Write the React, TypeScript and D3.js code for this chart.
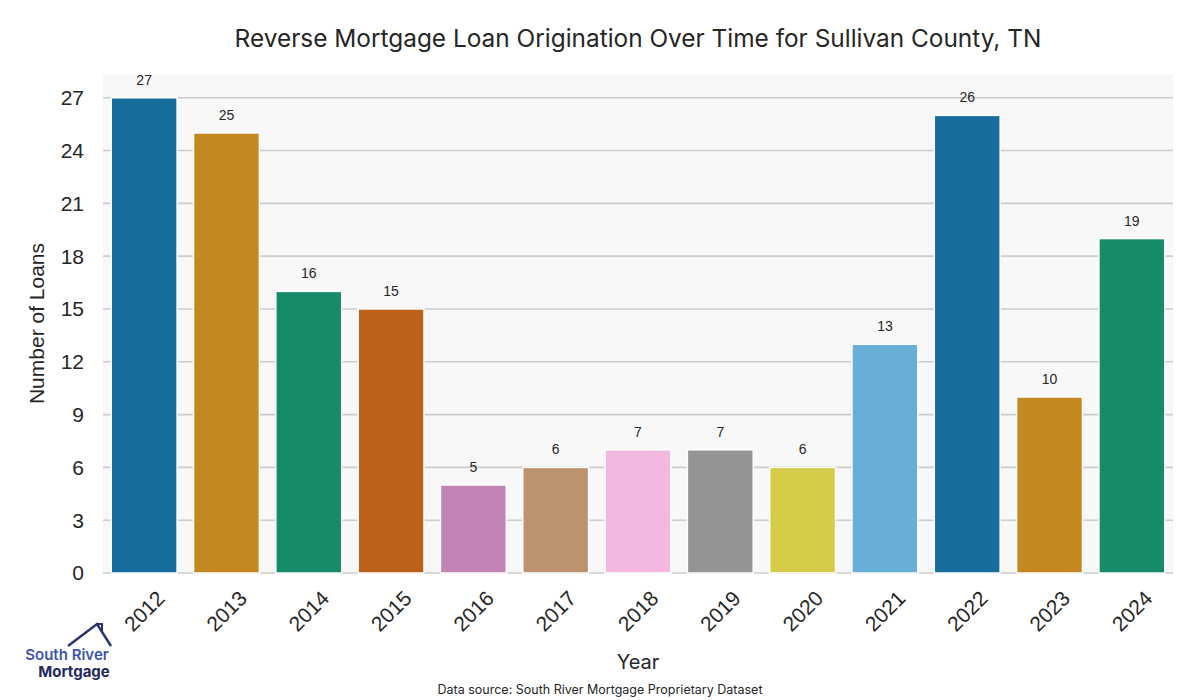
import React from "react";
import * as d3 from "d3";

const years = ["2012","2013","2014","2015","2016","2017","2018","2019","2020","2021","2022","2023","2024"];
const loans = [27, 25, 16, 15, 5, 6, 7, 7, 6, 13, 26, 10, 19];
const yTicks = [0, 3, 6, 9, 12, 15, 18, 21, 24, 27];
const palette = ["#0173b2","#de8f05","#029e73","#d55e00","#cc78bc","#ca9161","#fbafe4","#949494","#ece133","#56b4e9"];

const W = 1200, H = 700;
const left = 103, right = 1173, top = 74, bottom = 573;

function desat(c: string) {
  const h = d3.hsl(c);
  h.s *= 0.75;
  return h.formatHex();
}

export default function App() {
  const x = d3.scaleBand<string>().domain(years).range([left, right]).paddingInner(0.2).paddingOuter(0.1);
  const y = d3.scaleLinear().domain([0, 27 * 1.05]).range([bottom, top]);
  const sans = "'Liberation Sans', Arial, sans-serif";
  const title = "Inter, 'Noto Sans', sans-serif";
  return (
    <svg width={W} height={H} style={{ position: "absolute", left: 0, top: 0, background: "#fff" }}>
      <rect x={left} y={top} width={right - left} height={bottom - top} fill="#f8f8f8" />
      {yTicks.map(t => (
        <g key={t}>
          <line x1={left} x2={right} y1={y(t)} y2={y(t)} stroke="#cccccc" strokeWidth={1.6} />
          <text x={84} y={y(t)} dy="0.35em" textAnchor="end" fontFamily={sans} fontSize={21} fill="#262626">{t}</text>
        </g>
      ))}
      {years.map((yr, i) => {
        const v = loans[i];
        const bx = x(yr)!;
        const cx = bx + x.bandwidth() / 2;
        return (
          <g key={yr}>
            <rect x={bx} y={y(v)} width={x.bandwidth()} height={y(0) - y(v)} fill={desat(palette[i % palette.length])} stroke="#fff" strokeWidth={1.5} />
            <text x={cx} y={y(v) - 13} textAnchor="middle" fontFamily={sans} fontSize={14} fill="#262626">{v}</text>
            <text transform={`translate(${cx},${611}) rotate(-45)`} textAnchor="middle" dominantBaseline="central" fontFamily={sans} fontSize={21} fill="#262626">{yr}</text>
          </g>
        );
      })}
      <text transform={`translate(36,${(top + bottom) / 2}) rotate(-90)`} textAnchor="middle" dominantBaseline="central" fontFamily={sans} fontSize={21} fill="#262626">Number of Loans</text>
      <text x={(left + right) / 2} y={38} textAnchor="middle" dominantBaseline="central" fontFamily={title} fontSize={24.4} fill="#262626">Reverse Mortgage Loan Origination Over Time for Sullivan County, TN</text>
      <text x={(left + right) / 2} y={662} textAnchor="middle" dominantBaseline="central" fontFamily={title} fontSize={20} fill="#262626">Year</text>
      <text x={600} y={689} textAnchor="middle" dominantBaseline="central" fontFamily={title} fontSize={12.5} fill="#262626">Data source: South River Mortgage Proprietary Dataset</text>
      <g>
        <path d="M68,646 L97,624 L111,646" fill="none" stroke="#2a3470" strokeWidth={2.5} strokeLinejoin="miter" />
        <path d="M97,626 L97,624 L102,624 L102,633" fill="none" stroke="#2a3470" strokeWidth={2} />
        <text x={67} y={654} textAnchor="middle" dominantBaseline="central" fontFamily={title} fontWeight={600} fontSize={15} fill="#4054a8">South River</text>
        <text x={74} y={671} textAnchor="middle" dominantBaseline="central" fontFamily={title} fontWeight={700} fontSize={15} fill="#1f2a5e">Mortgage</text>
      </g>
    </svg>
  );
}
